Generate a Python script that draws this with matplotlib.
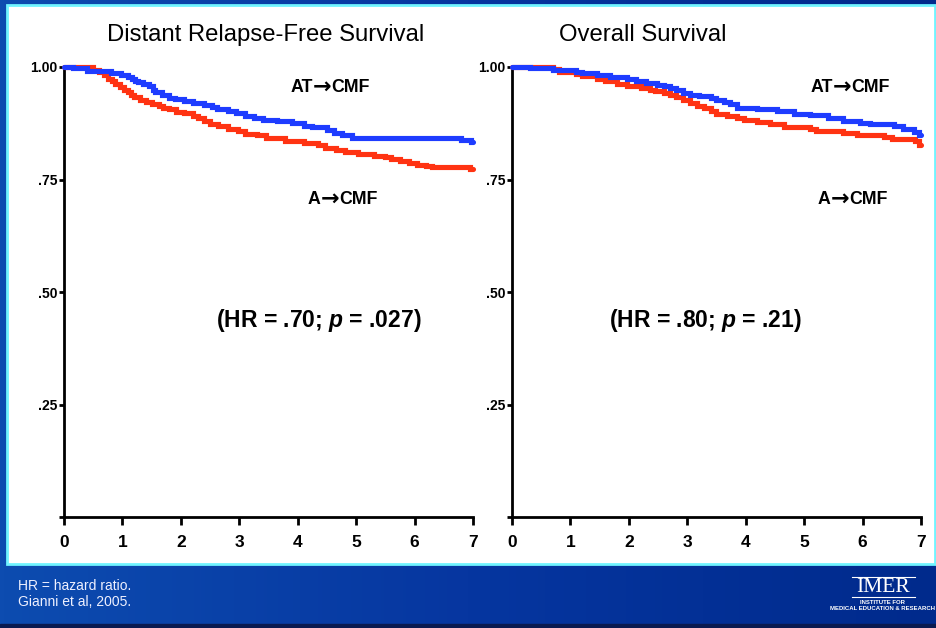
import numpy as np
import matplotlib
matplotlib.use("Agg")
import matplotlib.pyplot as plt
from matplotlib.patches import Rectangle
from matplotlib.lines import Line2D
from matplotlib.colors import LinearSegmentedColormap

plt.rcParams['font.family'] = ['Liberation Sans', 'DejaVu Sans']
plt.rcParams['mathtext.fontset'] = 'custom'
plt.rcParams['mathtext.rm'] = 'Liberation Sans:bold'
plt.rcParams['mathtext.it'] = 'Liberation Sans:italic:bold'
plt.rcParams['mathtext.bf'] = 'Liberation Sans:bold'

# ---------------- data ----------------
titles = ["Distant Relapse-Free Survival", "Overall Survival"]
hr_texts = [r"(HR = .70; $\it{p}$ = .027)", r"(HR = .80; $\it{p}$ = .21)"]
x_ticks = [0, 1, 2, 3, 4, 5, 6, 7]
y_ticks = [0, 0.25, 0.50, 0.75, 1.00]
y_ticklabels = ["", ".25", ".50", ".75", "1.00"]
arm_labels = [("AT", "CMF"), ("A", "CMF")]

drfs_at_t = [0.0, 0.15, 0.40, 0.80, 0.97, 1.10, 1.16, 1.22, 1.27, 1.36, 1.45, 1.52, 1.56, 1.68,
             1.80, 1.90, 2.05, 2.20, 2.40, 2.53, 2.62, 2.80, 2.95, 3.10, 3.25, 3.40, 3.65, 3.90,
             4.10, 4.24, 4.50, 4.62, 4.75, 4.93, 6.80, 6.97, 7.0]
drfs_at_s = [1.000, 0.997, 0.991, 0.987, 0.982, 0.978, 0.974, 0.970, 0.967, 0.962, 0.958, 0.950,
             0.944, 0.938, 0.932, 0.928, 0.924, 0.919, 0.915, 0.912, 0.907, 0.903, 0.897, 0.891,
             0.887, 0.882, 0.879, 0.876, 0.870, 0.866, 0.860, 0.854, 0.849, 0.843, 0.838, 0.834,
             0.834]

drfs_a_t = [0.0, 0.50, 0.60, 0.68, 0.76, 0.82, 0.88, 0.95, 1.02, 1.10, 1.15, 1.20, 1.30, 1.40,
            1.50, 1.62, 1.70, 1.80, 1.92, 2.05, 2.20, 2.30, 2.40, 2.50, 2.64, 2.80, 2.98, 3.10,
            3.30, 3.45, 3.78, 4.10, 4.35, 4.47, 4.65, 4.81, 5.04, 5.30, 5.50, 5.60, 5.75, 5.90,
            6.05, 6.20, 6.30, 6.95, 7.0]
drfs_a_s = [1.000, 0.994, 0.988, 0.982, 0.974, 0.968, 0.962, 0.956, 0.950, 0.944, 0.938, 0.933,
            0.927, 0.922, 0.918, 0.914, 0.910, 0.906, 0.901, 0.897, 0.892, 0.886, 0.880, 0.874,
            0.868, 0.863, 0.858, 0.852, 0.848, 0.843, 0.836, 0.832, 0.827, 0.821, 0.816, 0.811,
            0.806, 0.802, 0.799, 0.795, 0.791, 0.787, 0.783, 0.780, 0.778, 0.773, 0.773]

os_at_t = [0.0, 0.30, 0.70, 1.10, 1.20, 1.45, 1.68, 1.96, 2.13, 2.30, 2.48, 2.60, 2.70, 2.80,
           2.93, 3.05, 3.20, 3.40, 3.50, 3.62, 3.73, 3.85, 4.20, 4.53, 4.82, 5.10, 5.40, 5.67,
           5.96, 6.13, 6.53, 6.70, 6.88, 6.97, 7.0]
os_at_s = [1.000, 0.997, 0.994, 0.990, 0.987, 0.982, 0.978, 0.973, 0.969, 0.965, 0.961, 0.957,
           0.953, 0.949, 0.943, 0.938, 0.935, 0.932, 0.927, 0.923, 0.918, 0.910, 0.906, 0.902,
           0.896, 0.893, 0.886, 0.880, 0.876, 0.873, 0.868, 0.862, 0.856, 0.848, 0.848]

os_a_t = [0.0, 0.70, 0.80, 1.10, 1.20, 1.45, 1.60, 1.80, 1.96, 2.20, 2.36, 2.45, 2.60, 2.70,
          2.80, 2.93, 3.05, 3.16, 3.28, 3.40, 3.50, 3.68, 3.85, 3.97, 4.20, 4.42, 4.65, 5.10,
          5.20, 5.67, 5.90, 6.36, 6.50, 6.90, 6.97, 7.0]
os_a_s = [1.000, 0.996, 0.990, 0.985, 0.980, 0.974, 0.968, 0.962, 0.957, 0.953, 0.950, 0.946,
          0.942, 0.938, 0.933, 0.927, 0.921, 0.914, 0.908, 0.903, 0.896, 0.891, 0.887, 0.882,
          0.878, 0.873, 0.867, 0.862, 0.857, 0.853, 0.849, 0.845, 0.840, 0.835, 0.827, 0.827]

footnotes = ["HR = hazard ratio.", "Gianni et al, 2005."]

BLUE = "#1e3cff"
RED = "#ff3312"

W, H = 937, 628
fig = plt.figure(figsize=(W / 100, H / 100), dpi=100)
renderer = fig.canvas.get_renderer()

# background gradient
bg = fig.add_axes([0, 0, 1, 1], zorder=-10)
bg.set_axis_off()
grad = np.linspace(0, 1, 256)[None, :]
cmap = LinearSegmentedColormap.from_list("bg", ["#0d4cb0", "#0636a0", "#002a8c"])
bg.imshow(grad, aspect="auto", cmap=cmap, extent=[0, 1, 0, 1])
bg.set_xlim(0, 1)
bg.set_ylim(0, 1)
bg.add_patch(Rectangle((0, 0), 1, 4 / H, color="#0a1a50", transform=bg.transAxes))

# white panel with cyan border
fig.patches.append(Rectangle((7 / W, 1 - 564 / H), (935 - 7) / W, (564 - 5) / H,
                             transform=fig.transFigure, facecolor="white",
                             edgecolor="#70f4ff", linewidth=2, zorder=-5))


def px_rect(x0, y0, x1, y1):
    return [x0 / W, 1 - y1 / H, (x1 - x0) / W, (y1 - y0) / H]


def fpos(x, y):
    return (x / W, 1 - y / H)


def arrow_label(cx, cy, left, right, size=12.8):
    """cx, cy: centre in pixel coordinates (y from top)."""
    cap = size * 0.716 * 100 / 72  # cap height in px
    base_y = cy + cap / 2
    t1 = fig.text(0, 0, left, fontsize=size, fontweight="bold", va="baseline", ha="left")
    ta = fig.text(0, 0, "\u2192", fontsize=size * 1.25, fontweight="bold",
                  family="DejaVu Sans", va="center", ha="left")
    t2 = fig.text(0, 0, right, fontsize=size, fontweight="bold", va="baseline", ha="left")
    w1 = t1.get_window_extent(renderer).width
    wa = ta.get_window_extent(renderer).width
    w2 = t2.get_window_extent(renderer).width
    x0 = cx - (w1 + wa + w2) / 2
    t1.set_position(fpos(x0, base_y))
    ta.set_position(fpos(x0 + w1, cy + 0.5))
    t2.set_position(fpos(x0 + w1 + wa, base_y))


panels = [
    (px_rect(64, 67, 473, 517), drfs_at_t, drfs_at_s, drfs_a_t, drfs_a_s),
    (px_rect(512, 67, 921, 517), os_at_t, os_at_s, os_a_t, os_a_s),
]
title_pos = [(266, 35), (643, 35)]
at_pos = [(330, 86), (850, 86)]
a_pos = [(343, 198), (853, 198)]
hr_pos = [(319, 320), (705, 320)]

for i, (rect, t1, s1, t2, s2) in enumerate(panels):
    ax = fig.add_axes(rect)
    ax.set_facecolor("none")
    ax.plot(t2, s2, drawstyle="steps-post", color=RED, lw=3.7, clip_on=False,
            solid_capstyle="round", solid_joinstyle="miter", zorder=3)
    ax.plot(t1, s1, drawstyle="steps-post", color=BLUE, lw=3.7, clip_on=False,
            solid_capstyle="round", solid_joinstyle="miter", zorder=4)
    ax.set_xlim(0, 7)
    ax.set_ylim(0, 1)
    for sp in ["top", "right"]:
        ax.spines[sp].set_visible(False)
    for sp in ["left", "bottom"]:
        ax.spines[sp].set_linewidth(2)
        ax.spines[sp].set_color("black")
    ax.set_xticks(x_ticks)
    ax.set_xticklabels([str(v) for v in x_ticks], fontsize=12.5, fontweight="bold")
    ax.set_yticks(y_ticks)
    ax.set_yticklabels(y_ticklabels, fontsize=10, fontweight="bold")
    ax.tick_params(axis="x", direction="out", length=6, width=2, pad=7)
    ax.tick_params(axis="y", direction="out", length=3.5, width=2, pad=1.5)

    fig.text(*fpos(*title_pos[i]), titles[i], fontsize=17.2,
             ha="center", va="center", color="black")
    arrow_label(*at_pos[i], *arm_labels[0])
    arrow_label(*a_pos[i], *arm_labels[1])
    fig.text(*fpos(*hr_pos[i]), hr_texts[i], fontsize=16.5,
             fontweight="bold", ha="center", va="center")

# footnotes
fig.text(*fpos(18, 586), footnotes[0], fontsize=10, color="#eef0ff", ha="left", va="center")
fig.text(*fpos(18, 602), footnotes[1], fontsize=10, color="#eef0ff", ha="left", va="center")

# IMER logo
fig.text(*fpos(883, 587), "IMER", fontsize=15.5, family=["Liberation Serif", "DejaVu Serif"],
         color="white", ha="center", va="center")
fig.add_artist(Line2D([852 / W, 915 / W], [1 - 577 / H, 1 - 577 / H], color="white", lw=0.8,
                      transform=fig.transFigure))
fig.add_artist(Line2D([852 / W, 915 / W], [1 - 597 / H, 1 - 597 / H], color="white", lw=0.8,
                      transform=fig.transFigure))
fig.text(*fpos(883, 602), "INSTITUTE FOR", fontsize=4.3, fontweight="bold",
         color="white", ha="center", va="center")
fig.text(*fpos(883, 609), "MEDICAL EDUCATION & RESEARCH", fontsize=4.3, fontweight="bold",
         color="white", ha="center", va="center")

fig.savefig("out.png", dpi=100)
